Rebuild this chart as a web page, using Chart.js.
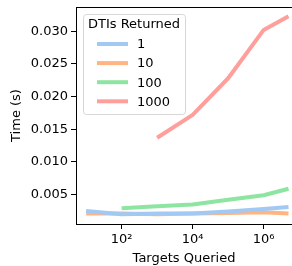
<!DOCTYPE html>
<html>
<head>
<meta charset="utf-8">
<script src="https://cdn.jsdelivr.net/npm/chart.js@4/dist/chart.umd.min.js"></script>
<style>
  html, body { margin: 0; padding: 0; background: #fff; }
  #wrap { width: 292px; height: 266px; }
</style>
</head>
<body>
<div id="wrap"><canvas id="chart"></canvas></div>
<script>
// Dados
const targets = [10, 100, 1000, 10000, 100000, 1000000, 5000000];
const dti1 = [0.0025, 0.0020, 0.0021, 0.0021, 0.0024, 0.0028, 0.0031];
const dti10 = [0.0021, 0.0021, 0.0020, 0.0021, 0.0022, 0.0023, 0.0021];
const dti100 = [null, 0.0029, 0.0032, 0.0035, 0.0042, 0.0049, 0.0059];
const dti1000 = [null, null, 0.0137, 0.0172, 0.0228, 0.0302, 0.0323];

const seriesLabels = ["1", "10", "100", "1000"];
const seriesColors = ["#a1c9f4", "#ffb482", "#8de5a1", "#ff9f9b"];
const xTicks = [100, 10000, 1000000];
const xTickLabels = ["10²", "10⁴", "10⁶"];
const yTicks = [0.005, 0.010, 0.015, 0.020, 0.025, 0.030];

const FONT = "'DejaVu Sans', sans-serif";

function toPoints(values) {
  return targets.map((t, i) => ({ x: t, y: values[i] }));
}

// Legenda desenhada dentro da área do gráfico
const innerLegend = {
  id: "innerLegend",
  afterDraw(chart) {
    const ctx = chart.ctx;
    const x0 = 83, y0 = 14, w = 102, h = 100;
    ctx.save();
    ctx.beginPath();
    ctx.roundRect(x0 + 0.5, y0 + 0.5, w, h, 3);
    ctx.fillStyle = "rgba(255,255,255,0.8)";
    ctx.fill();
    ctx.strokeStyle = "#d6d6d6";
    ctx.lineWidth = 1;
    ctx.stroke();

    ctx.fillStyle = "#000";
    ctx.font = "13px " + FONT;
    ctx.textBaseline = "middle";
    ctx.textAlign = "center";
    ctx.fillText("DTIs Returned", x0 + w / 2, 25);

    ctx.textAlign = "left";
    chart.data.datasets.forEach((ds, i) => {
      const y = 44 + i * 19.1;
      ctx.beginPath();
      ctx.moveTo(97, y);
      ctx.lineTo(128, y);
      ctx.strokeStyle = ds.borderColor;
      ctx.lineWidth = 4;
      ctx.stroke();
      ctx.fillStyle = "#000";
      ctx.fillText(ds.label, 137, y + 1);
    });

    // borda superior
    const area = chart.chartArea;
    ctx.beginPath();
    ctx.moveTo(area.left, area.top + 0.5);
    ctx.lineTo(area.right, area.top + 0.5);
    ctx.strokeStyle = "#000";
    ctx.lineWidth = 1;
    ctx.stroke();
    ctx.restore();
  }
};

const allSeries = [dti1, dti10, dti100, dti1000];

new Chart(document.getElementById("chart"), {
  type: "line",
  data: {
    datasets: allSeries.map((vals, i) => ({
      label: seriesLabels[i],
      data: toPoints(vals),
      borderColor: seriesColors[i],
      backgroundColor: seriesColors[i],
      borderWidth: 4,
      pointRadius: 0,
      tension: 0,
      borderJoinStyle: "round",
      spanGaps: false,
    })),
  },
  options: {
    responsive: true,
    maintainAspectRatio: false,
    animation: false,
    layout: { padding: { top: 7, left: 0, right: 0, bottom: 0 } },
    plugins: {
      legend: { display: false },
      tooltip: { enabled: false },
    },
    scales: {
      x: {
        type: "logarithmic",
        min: 5.19,
        max: 6270000,
        afterBuildTicks(axis) {
          axis.ticks = xTicks.map((v) => ({ value: v }));
        },
        afterFit(axis) {
          axis.height = 42;
          axis.paddingLeft = 0;
          axis.paddingRight = 0;
        },
        ticks: {
          autoSkip: false,
          maxRotation: 0,
          padding: 3,
          color: "#000",
          font: { family: FONT, size: 13 },
          callback: function (value) {
            const idx = xTicks.indexOf(value);
            return idx >= 0 ? xTickLabels[idx] : "";
          },
        },
        grid: {
          drawOnChartArea: false,
          drawTicks: true,
          tickLength: 5,
          tickColor: "#000",
        },
        border: { display: true, color: "#000", width: 1 },
        title: {
          display: true,
          text: "Targets Queried",
          color: "#000",
          font: { family: FONT, size: 13 },
          padding: { top: 0, bottom: 0 },
        },
      },
      y: {
        type: "linear",
        min: 0.0005,
        max: 0.0337,
        afterBuildTicks(axis) {
          axis.ticks = yTicks.map((v) => ({ value: v }));
        },
        afterFit(axis) {
          axis.width = 76;
          axis.paddingTop = 0;
          axis.paddingBottom = 0;
        },
        ticks: {
          padding: 3,
          color: "#000",
          font: { family: FONT, size: 13 },
          callback: function (value) {
            return value.toFixed(3);
          },
        },
        grid: {
          drawOnChartArea: false,
          drawTicks: true,
          tickLength: 5,
          tickColor: "#000",
        },
        border: { display: true, color: "#000", width: 1 },
        title: {
          display: true,
          text: "Time (s)",
          color: "#000",
          font: { family: FONT, size: 13 },
          padding: { top: 9, bottom: 0 },
        },
      },
    },
  },
  plugins: [innerLegend],
});
</script>
</body>
</html>
